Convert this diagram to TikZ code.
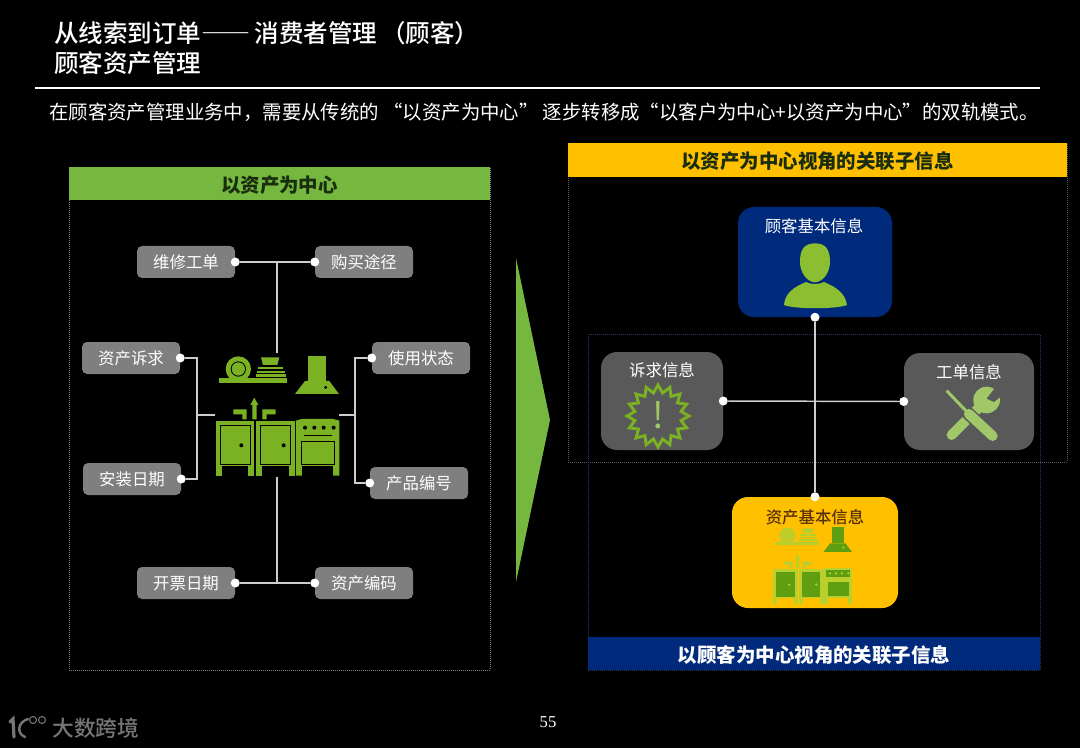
\documentclass[tikz,border=0pt]{standalone}
\usepackage{fontspec}
\setmainfont{Noto Sans CJK SC}
\newfontfamily\medfont[UprightFont=* Medium]{Noto Sans CJK SC}
\newfontfamily\fullfont[CharacterWidth=Full]{Noto Sans CJK SC}
\newfontfamily\fullmed[UprightFont=* Medium, CharacterWidth=Full]{Noto Sans CJK SC}
\newfontfamily\numfont{Liberation Serif}
\usepackage{xcolor}
\usepackage{tikz}
\usetikzlibrary{shapes.geometric, positioning, calc}
\definecolor{mygreen}{RGB}{118,184,63}
\definecolor{myicon}{RGB}{122,178,36}
\definecolor{myperson}{RGB}{140,190,50}
\definecolor{mytool}{RGB}{160,200,105}
\definecolor{myamber}{RGB}{255,192,0}
\definecolor{mynavy}{RGB}{0,42,124}
\definecolor{mytag}{RGB}{127,127,127}
\definecolor{mycard}{RGB}{89,89,89}
\definecolor{mylink}{RGB}{205,205,205}
\definecolor{mylogo}{RGB}{118,118,118}
\definecolor{mydark}{RGB}{25,45,15}
\definecolor{mybrown}{RGB}{90,50,10}
\definecolor{mylime}{RGB}{184,207,46}
\definecolor{mymoss}{RGB}{95,158,16}
\definecolor{myframe}{RGB}{45,50,110}
\newdimen\px
\px=0.75pt
\newcommand{\dropped}[1]{\raisebox{-9\px}[0pt][0pt]{#1}}
\tikzset{
  tagbox/.style={rectangle, fill=mytag, rounded corners=5\px, minimum width=98\px,
    minimum height=32\px, inner sep=0pt, text=white, font=\fontsize{12.3pt}{14pt}\selectfont},
  card/.style={rectangle, rounded corners=16\px, inner sep=0pt},
  banner/.style={rectangle, inner sep=0pt, minimum height=33\px, font=\fontsize{14.6pt}{17pt}\selectfont\bfseries},
  frame/.style={rectangle, inner sep=0pt, densely dotted, line width=0.5pt},
  dotmark/.style={circle, fill=white, inner sep=0pt, minimum size=9\px},
  link/.style={draw=mylink, line width=1.1pt},
  cardtext/.style={inner sep=0pt, text=white, font=\fontsize{12.3pt}{14pt}\selectfont},
  pics/kitchen/.style n args={4}{code={
    % shelf with plates
    \fill[#1] (88,175) rectangle (292,189);
    \fill[#1] (145,147) circle (38);
    \fill[#4] (145,147) circle (23);
    \fill[#1] (145,147) circle (20);
    \fill[#1] (213,112) -- (268,112) -- (262,135) -- (219,135) -- cycle;
    \fill[#1] (205,140) rectangle (280,148);
    \fill[#1] (200,152) rectangle (285,158);
    \fill[#1] (197,163) rectangle (288,170);
    % hood
    \fill[#2] (355,107) rectangle (409,183);
    \fill[#2] (345,183) -- (418,183) -- (447,222) -- (315,222) -- cycle;
    \fill[#3] (407,202) circle (5);
    % faucets
    \fill[#1] (187,298) -- (187,255) -- (181,255) -- (193,233) -- (205,255) -- (200,255) -- (200,298) -- cycle;
    \fill[#1] (130,268) -- (170,268) -- (170,298) -- (157,298) -- (157,283) -- (130,283) -- cycle;
    \fill[#1] (257,268) -- (217,268) -- (217,298) -- (230,298) -- (230,283) -- (257,283) -- cycle;
    % cabinets
    \fill[#1] (78,302) rectangle (193,467);
    \fill[#1] (198,302) rectangle (315,467);
    \fill[#4] (97,437) rectangle (175,467);
    \fill[#4] (217,437) rectangle (296,467);
    \filldraw[fill=#2, draw=#3, line width=0.7pt] (91,316) rectangle (181,434);
    \filldraw[fill=#2, draw=#3, line width=0.7pt] (212,316) rectangle (301,434);
    \fill[#3] (154,376) circle (6);
    \fill[#3] (281,376) circle (6);
    % stove
    \fill[#1] (318,302) -- (335,297) -- (430,297) -- (448,302) -- (448,467) -- (318,467) -- cycle;
    \fill[#4] (337,437) rectangle (428,467);
    \fill[#2] (325,308) rectangle (441,340);
    \foreach \dx in {345,373,401,431} {\fill[#3] (\dx,323) circle (6);}
    \fill[#3] (342,346) rectangle (427,349);
    \filldraw[fill=#2, draw=#3, line width=0.7pt] (334,363) rectangle (434,433);
  }},
  pics/person/.style={code={
    \fill[myperson] (675,130) .. controls (708,130) and (720,150) .. (720,185)
      .. controls (720,215) and (702,245) .. (675,247)
      .. controls (648,245) and (630,215) .. (630,185)
      .. controls (630,150) and (642,130) .. (675,130) -- cycle;
    \fill[myperson] (582,315) .. controls (585,280) and (610,262) .. (648,246)
      .. controls (660,254) and (690,254) .. (702,246)
      .. controls (740,262) and (766,280) .. (771,315)
      .. controls (740,328) and (612,328) .. (582,315) -- cycle;
  }},
  pics/tools/.style={code={
    % wrench
    \draw[mytool, line width=10\px, line cap=round] (1085,705) -- (1170,620);
    \fill[mytool] (1190,600) circle (40);
    \fill[mycard] (1190,596) -- (1218,560) -- (1245,580) -- (1212,606) -- cycle;
    % screwdriver
    \draw[mycard, line width=13\px, line cap=round] (1132,638) -- (1208,708);
    \draw[mytool, line width=3\px] (1070,572) -- (1135,640);
    \draw[mytool, line width=10\px, line cap=round] (1137,642) -- (1208,708);
  }}
}

\begin{document}
\begin{tikzpicture}[x=0.75pt, y=-0.75pt]
  \useasboundingbox (0,0) rectangle (1080,748);
  \fill[black] (0,0) rectangle (1080,748);

  % Title and intro line
  \node[anchor=west, inner sep=0pt, text=white, font=\medfont\fontsize{18.4pt}{22pt}\selectfont] (title) at (54,33) {从线索到订单{\fullmed ——}\hspace{4\px}消费者管理\hspace{4\px}（顾客）};
  \node[anchor=west, inner sep=0pt, text=white, font=\medfont\fontsize{18.4pt}{22pt}\selectfont] (subtitle) at (54,63) {顾客资产管理};
  \coordinate (ruleL) at (35,88);
  \coordinate (ruleR) at (1040,88);
  \draw[white, line width=1pt] (ruleL) -- (ruleR);
  \node[anchor=west, inner sep=0pt, text=white, font=\fontsize{14.55pt}{17pt}\selectfont] (intro) at (49,112) {在顾客资产管理业务中，需要从传统的 {\fullfont “}以资产为中心{\fullfont ”} 逐步转移成{\fullfont “}以客户为中心+以资产为中心{\fullfont ”}的双轨模式。};

  % Left panel
  \node[frame, draw=gray, minimum width=421\px, minimum height=503\px] (leftframe) at (279.5,418.5) {};
  \node[banner, fill=mygreen, text=mydark, minimum width=421\px] (leftbanner) at (279.5,183.5) {\dropped{以资产为中心}};

  \node[tagbox] (repair) at (186,262) {维修工单};
  \node[tagbox] (buy) at (364,262) {购买途径};
  \node[tagbox] (claim) at (131,358) {资产诉求};
  \node[tagbox] (state) at (421,358) {使用状态};
  \node[tagbox] (install) at (132,479) {安装日期};
  \node[tagbox] (serial) at (419,483) {产品编号};
  \node[tagbox] (invoice) at (186,583) {开票日期};
  \node[tagbox] (code) at (364,583) {资产编码};

  \pic[scale=0.3333] at (190,320) {kitchen={myicon}{myicon}{black}{black}};

  % Left connectors
  \coordinate (topjoin) at (277,262);
  \coordinate (topend) at (277,353);
  \coordinate (botjoin) at (277,583);
  \coordinate (botend) at (277,477);
  \coordinate (leftend) at (215,415);
  \coordinate (rightend) at (339,415);
  \coordinate (leftjoin) at (197,415);
  \coordinate (rightjoin) at (355,415);
  \node[dotmark] (repairdot) at (repair.east) {};
  \node[dotmark] (buydot) at (buy.west) {};
  \node[dotmark] (claimdot) at (claim.east) {};
  \node[dotmark] (statedot) at (state.west) {};
  \node[dotmark] (installdot) at (install.east) {};
  \node[dotmark] (serialdot) at (serial.west) {};
  \node[dotmark] (invoicedot) at (invoice.east) {};
  \node[dotmark] (codedot) at (code.west) {};
  \draw[link] (repairdot) -- (buydot);
  \draw[link] (topjoin) -- (topend);
  \draw[link] (invoicedot) -- (codedot);
  \draw[link] (botjoin) -- (botend);
  \draw[link] (claimdot) -| (leftjoin) -- (leftend);
  \draw[link] (installdot) -| (leftjoin);
  \draw[link] (statedot) -| (rightjoin) -- (rightend);
  \draw[link] (serialdot) -| (rightjoin);

  % Big arrow
  \fill[mygreen] (516,258) -- (550,420) -- (516,582) -- cycle;

  % Right panels
  \node[frame, draw=black!65!white, minimum width=499\px, minimum height=319\px] (topframe) at (817.5,302.5) {};
  \node[frame, draw=myframe, minimum width=452\px, minimum height=336\px] (botframe) at (814,502) {};
  \node[banner, fill=myamber, text=mydark, minimum width=499\px, minimum height=34\px] (topbanner) at (817.5,160) {\dropped{以资产为中心视角的关联子信息}};
  \node[banner, fill=mynavy, text=white, minimum width=452\px] (botbanner) at (814,653.5) {\dropped{以顾客为中心视角的关联子信息}};

  % Cards
  \node[card, fill=mynavy, minimum width=154\px, minimum height=110\px] (guest) at (815,262) {};
  \node[card, fill=mycard, minimum width=122\px, minimum height=98\px] (claiminfo) at (662,401) {};
  \node[card, fill=mycard, minimum width=130\px, minimum height=97\px] (orderinfo) at (969,401.5) {};
  \node[card, fill=myamber, minimum width=166\px, minimum height=111\px] (asset) at (815,552.5) {};

  \node[cardtext] (guesttext) at (814,226) {顾客基本信息};
  \node[cardtext] (claimtext) at (662,370) {诉求信息};
  \node[cardtext] (ordertext) at (969,372) {工单信息};
  \node[cardtext, text=mybrown, font=\medfont\fontsize{12.3pt}{14pt}\selectfont] (assettext) at (815,517) {资产基本信息};

  % Card icons
  \pic[scale=0.3333] at (590,200) {person};
  \pic[scale=0.3333] at (590,200) {tools};
  \node[star, star points=16, star point ratio=1.32, draw=myicon, line width=2.2pt, minimum size=62\px, inner sep=0pt] (burst) at (658,416) {};
  \node[inner sep=0pt, text=mytool, font=\fontsize{27pt}{28pt}\selectfont] (burstmark) at (658,415) {!};
  \pic[scale=0.2133] at (756.4,504.4) {kitchen={mylime}{mymoss}{mylime}{myamber}};

  % Right connectors
  \node[dotmark] (guestdot) at (guest.south) {};
  \node[dotmark] (claimlink) at (claiminfo.east) {};
  \node[dotmark] (orderlink) at (orderinfo.west) {};
  \node[dotmark] (assetdot) at (asset.north) {};
  \draw[link] (guestdot) -- (assetdot);
  \draw[link] (claimlink) -- (orderlink);

  % Page number and logo
  \node[inner sep=0pt, text=white, font=\numfont\fontsize{12.5pt}{14pt}\selectfont] (page) at (548,722) {55};
  \node[anchor=west, inner sep=0pt, text=mylogo, font=\medfont\fontsize{16.3pt}{18pt}\selectfont] (logotext) at (52,728) {大数跨境};
  \draw[mylogo, line width=2.4pt, line cap=round] (10,722) -- (13,719) -- (14,737);
  \draw[mylogo, line width=1.8pt, line cap=round] (28,719) .. controls (18,722) and (16,733) .. (25,737);
  \draw[mylogo, line width=0.8pt] (33,720) circle (3.5);
  \draw[mylogo, line width=0.8pt] (42,720) circle (3.5);
\end{tikzpicture}
\end{document}
